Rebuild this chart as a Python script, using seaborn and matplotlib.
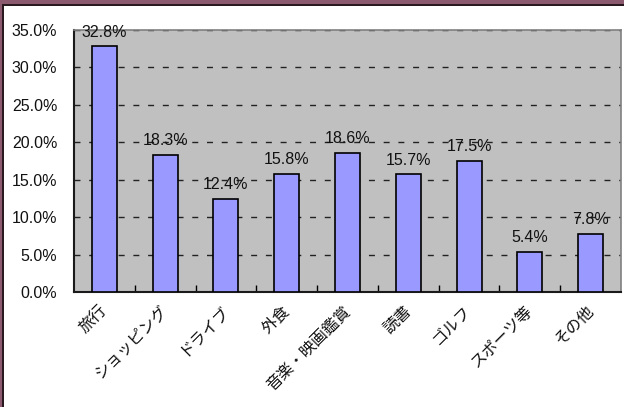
import seaborn as sns
import matplotlib.pyplot as plt
from matplotlib.patches import Rectangle
from matplotlib.ticker import PercentFormatter
import matplotlib.transforms as mtransforms

# Data (percent)
categories = ["旅行", "ショッピング", "ドライブ", "外食", "音楽・映画鑑賞",
              "読書", "ゴルフ", "スポーツ等", "その他"]
values = [32.8, 18.3, 12.4, 15.8, 18.6, 15.7, 17.5, 5.4, 7.8]
y_ticks = [0, 5, 10, 15, 20, 25, 30, 35]

sns.set_style("white")
plt.rcParams['font.family'] = ['Liberation Sans', 'Noto Sans CJK JP', 'DejaVu Sans']

fig = plt.figure(figsize=(6.24, 4.07), dpi=100)
fig.patch.set_facecolor("white")
ax = fig.add_axes([74 / 624, 115 / 407, 547 / 624, 262 / 407])
ax.set_facecolor("#C0C0C0")

sns.barplot(x=categories, y=values, color="#9999FF", saturation=1,
            edgecolor="black", linewidth=1.2, width=0.41, ax=ax, zorder=3)

# value labels above each bar
ax.bar_label(ax.containers[0], labels=[f"{v:.1f}%" for v in values],
             padding=5, fontsize=11.5, color="#111111", zorder=4)

ax.set_ylim(0, 35)
ax.set_yticks(y_ticks)
ax.yaxis.set_major_formatter(PercentFormatter(decimals=1))
ax.set_xlim(-0.5, len(categories) - 0.5)
ax.set_xlabel("")
ax.set_ylabel("")

# dashed horizontal gridlines
ax.yaxis.grid(True, color="#222222", linestyle=(0, (4.3, 6.3)), linewidth=1, zorder=1)
ax.xaxis.grid(False)
ax.set_axisbelow(True)

# ticks: small inner marks between categories
ax.set_xticks([i + 0.5 for i in range(len(categories) - 1)], minor=True)
ax.tick_params(axis="x", which="major", bottom=False, length=0, pad=8)
ax.tick_params(axis="x", which="minor", bottom=True, direction="in", length=5,
               width=1, color="black")
ax.tick_params(axis="y", left=False, length=0, pad=12, labelsize=11.5, labelcolor="#111111")
shift = mtransforms.ScaledTranslation(-5 / 100, 0, fig.dpi_scale_trans)
for lab in ax.get_xticklabels():
    lab.set_rotation(45)
    lab.set_ha("right")
    lab.set_rotation_mode("anchor")
    lab.set_fontsize(11.5)
    lab.set_color("#111111")
    lab.set_transform(lab.get_transform() + shift)

for side in ["left", "bottom"]:
    ax.spines[side].set_color("#1a1a1a")
    ax.spines[side].set_linewidth(1.5)
for side in ["top", "right"]:
    ax.spines[side].set_color("#808080")
    ax.spines[side].set_linewidth(1.2)

# outer frame (top and left edges)
fig.patches.append(Rectangle((0, 1 - 4 / 407), 1, 4 / 407, transform=fig.transFigure,
                             facecolor="#8C5A6E", edgecolor="none"))
fig.patches.append(Rectangle((0, 1 - 6 / 407), 1, 2 / 407, transform=fig.transFigure,
                             facecolor="#2a1a20", edgecolor="none"))
fig.patches.append(Rectangle((0, 0), 2 / 624, 1, transform=fig.transFigure,
                             facecolor="#8C5A6E", edgecolor="none"))
fig.patches.append(Rectangle((2 / 624, 0), 2 / 624, 1 - 4 / 407, transform=fig.transFigure,
                             facecolor="#2a1a20", edgecolor="none"))

fig.savefig("out.png", dpi=100)
